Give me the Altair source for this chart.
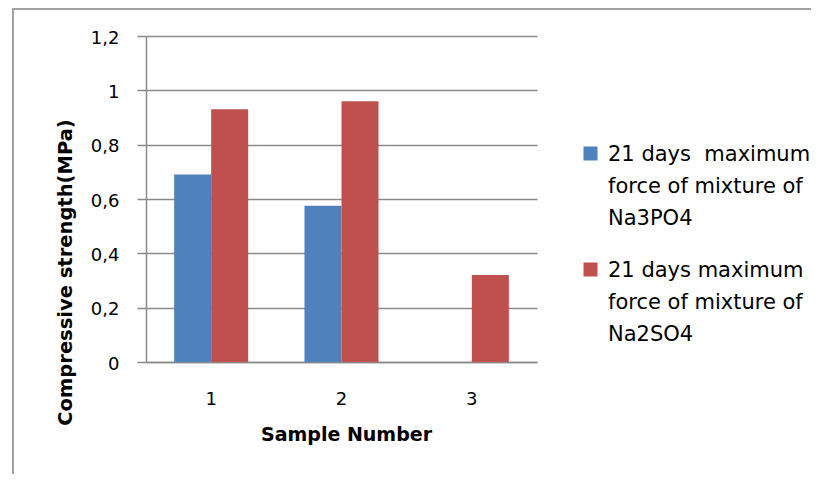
import altair as alt
import pandas as pd

samples = ["1", "2", "3"]
series = [
    "21 days\u00a0 maximum\nforce of mixture of\nNa3PO4",
    "21 days maximum\nforce of mixture of\nNa2SO4",
]
na3po4 = [0.69, 0.575, None]
na2so4 = [0.93, 0.96, 0.32]
colors = ["#4F81BD", "#C0504D"]
y_ticks = [0, 0.2, 0.4, 0.6, 0.8, 1.0, 1.2]

rows = []
for s, v in zip(samples, na3po4):
    if v is not None:
        rows.append({"sample": s, "series": series[0], "value": v})
for s, v in zip(samples, na2so4):
    if v is not None:
        rows.append({"sample": s, "series": series[1], "value": v})
df = pd.DataFrame(rows)

FONT = "DejaVu Sans"
GRID = "#8a8a8a"

bars = alt.Chart(df).mark_bar().encode(
    x=alt.X(
        "sample:N",
        sort=samples,
        scale=alt.Scale(paddingInner=0.432, paddingOuter=0.216),
        axis=alt.Axis(
            title="Sample Number",
            labelAngle=0,
            ticks=False,
            labelPadding=28,
            labelFontSize=18,
            domainColor=GRID,
            domainWidth=1.5,
            titleFontSize=19,
            titleAlign="center",
            titleBaseline="alphabetic",
            titleX=200,
            titleY=78,
        ),
    ),
    xOffset=alt.XOffset("series:N", sort=series),
    y=alt.Y(
        "value:Q",
        scale=alt.Scale(domain=[0, 1.2], nice=False),
        axis=alt.Axis(
            title="Compressive strength(MPa)",
            values=y_ticks,
            labelExpr="replace(format(datum.value, '.1~f'), '.', ',')",
            labelFontSize=18,
            labelOffset=2,
            tickSize=9,
            tickColor=GRID,
            tickWidth=1.5,
            gridColor=GRID,
            gridWidth=1.5,
            domainColor=GRID,
            domainWidth=1.5,
            labelPadding=18,
            titleFontSize=19.5,
            titleAngle=270,
            titleAlign="center",
            titleBaseline="middle",
            titleX=-81,
            titleY=236,
        ),
    ),
    color=alt.Color(
        "series:N",
        sort=series,
        scale=alt.Scale(domain=series, range=colors),
        legend=alt.Legend(
            title=None,
            orient="none",
            legendX=434,
            legendY=114,
            symbolType="M-1,-2H1V0H-1Z",
            symbolSize=196,
            symbolStrokeWidth=0,
            labelExpr="split(datum.label, '\\n')",
            labelFontSize=21,
            labelFont=FONT,
            labelColor="#000000",
            labelBaseline="alphabetic",
            labelOffset=7,
            labelLimit=400,
            rowPadding=30,
            padding=0,
        ),
    ),
)

frame_top = alt.Chart(pd.DataFrame({"a": [0]})).mark_rule(color="#a0a0a0", strokeWidth=2).encode(
    x=alt.value(-133), x2=alt.value(665), y=alt.value(-27)
)
frame_left = alt.Chart(pd.DataFrame({"a": [0]})).mark_rule(color="#a0a0a0", strokeWidth=2).encode(
    x=alt.value(-133), y=alt.value(-28), y2=alt.value(440)
)

chart = alt.layer(bars, frame_top, frame_left).properties(
    width=391,
    height=326,
    autosize=alt.AutoSizeParams(type="none"),
    padding={"left": 138, "top": 28, "right": 274, "bottom": 112},
    background="white",
).configure(
    style={"guide-label": {"lineHeight": 32}},
).configure_view(stroke=None).configure_axis(
    labelFont=FONT,
    labelColor="#000000",
    titleFont=FONT,
    titleFontWeight="bold",
    titleColor="#000000",
)

chart.save("out.html", embed_options={"renderer": "svg", "actions": False})
